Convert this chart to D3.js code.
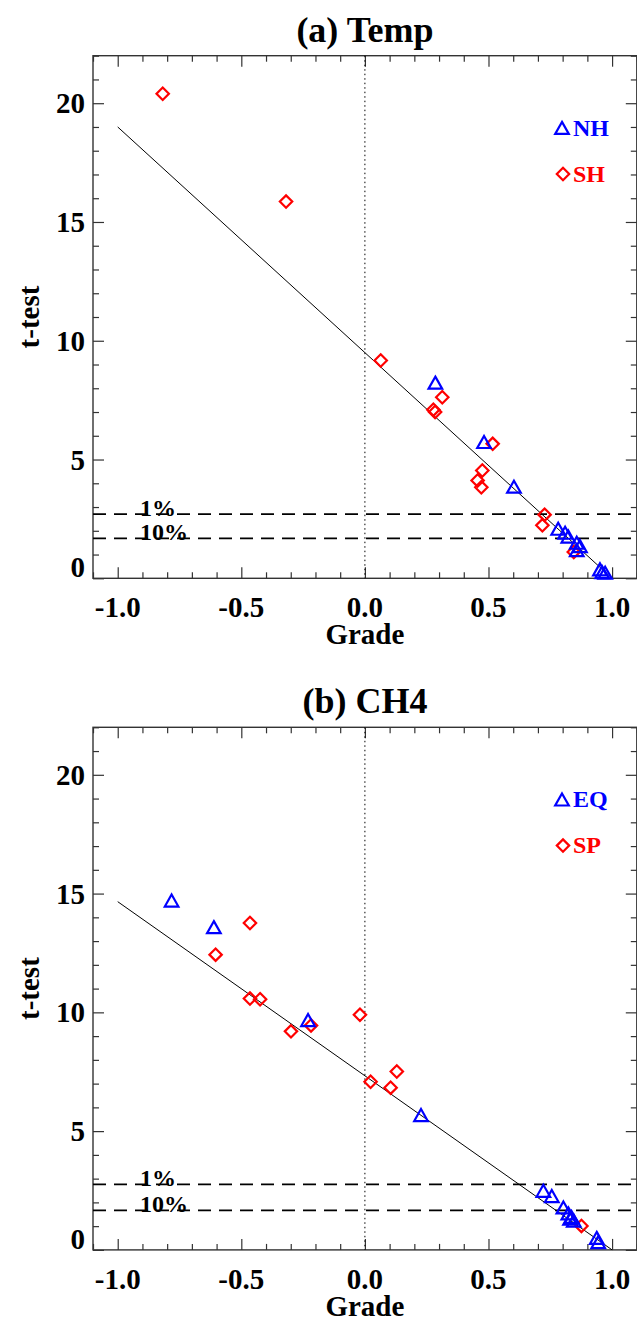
<!DOCTYPE html>
<html>
<head>
<meta charset="utf-8">
<script src="https://cdn.jsdelivr.net/npm/d3@7/dist/d3.min.js"></script>
<style>
  html, body { margin: 0; padding: 0; background: #fff; }
  svg { display: block; }
  text { font-family: "Liberation Serif", "Times New Roman", Times, serif; font-weight: bold; }
</style>
</head>
<body>
<svg id="chart" width="637" height="1322"></svg>
<script>
// ---- (a) Temp ----
const tempNHGrade = [0.285, 0.482, 0.603, 0.782, 0.810, 0.823, 0.857, 0.870, 0.857, 0.951, 0.960, 0.972];
const tempNHT     = [8.22, 5.72, 3.84, 2.07, 1.90, 1.74, 1.48, 1.34, 1.17, 0.36, 0.24, 0.22];
const tempSHGrade = [-0.818, -0.319, 0.064, 0.313, 0.277, 0.284, 0.517, 0.475, 0.456, 0.471, 0.727, 0.718, 0.845];
const tempSHT     = [20.40, 15.86, 9.17, 7.62, 7.10, 7.00, 5.66, 4.54, 4.12, 3.83, 2.68, 2.23, 1.11];
const tempFitGrade = [-1.0, 1.0];
const tempFitT     = [19.0, 0.0];
const tempSigLevels = [2.70, 1.68];

// ---- (b) CH4 ----
const ch4EQGrade = [-0.782, -0.611, -0.230, 0.227, 0.722, 0.756, 0.803, 0.823, 0.836, 0.830, 0.845, 0.938, 0.944];
const ch4EQT     = [14.69, 13.57, 9.66, 5.66, 2.47, 2.25, 1.77, 1.52, 1.37, 1.30, 1.21, 0.49, 0.31];
const ch4SPGrade = [-0.465, -0.604, -0.465, -0.424, -0.218, -0.299, -0.020, 0.023, 0.129, 0.104, 0.876];
const ch4SPT     = [13.76, 12.43, 10.58, 10.55, 9.45, 9.20, 9.90, 7.08, 7.51, 6.83, 1.01];
const ch4FitGrade = [-1.0, 1.0];
const ch4FitT     = [14.66, 0.0];
const ch4SigLevels = [2.76, 1.66];

const sigLabels = ["1%", "10%"];
const xMajorTicks = [-1.0, -0.5, 0.0, 0.5, 1.0];
const yMajorTicks = [0, 5, 10, 15, 20];
const xDomain = [-1.1, 1.1];
const yDomain = [0, 22];

const panels = [
  { title: "(a) Temp", top: 55.7,
    seriesA: { name: "NH", grade: tempNHGrade, t: tempNHT },
    seriesB: { name: "SH", grade: tempSHGrade, t: tempSHT },
    fitGrade: tempFitGrade, fitT: tempFitT, sig: tempSigLevels },
  { title: "(b) CH4", top: 727.3,
    seriesA: { name: "EQ", grade: ch4EQGrade, t: ch4EQT },
    seriesB: { name: "SP", grade: ch4SPGrade, t: ch4SPT },
    fitGrade: ch4FitGrade, fitT: ch4FitT, sig: ch4SigLevels }
];

const svg = d3.select("#chart");
const left = 93, right = 636.8, plotH = 522.6;
const BLUE = "#0000ff", RED = "#ff0000";

const triPath = "M0,-6.4L6.8,5.6L-6.8,5.6Z";
const diaPath = "M0,-6.2L6.2,0L0,6.2L-6.2,0Z";

const range = (a, b, step) => d3.range(Math.round(a / step), Math.round(b / step) + 1).map(i => +(i * step).toFixed(6));

panels.forEach(p => {
  const top = p.top, bottom = top + plotH;
  const x = d3.scaleLinear().domain(xDomain).range([left, right]);
  const y = d3.scaleLinear().domain(yDomain).range([bottom, top]);
  const g = svg.append("g");

  // title
  g.append("text").attr("x", (left + right) / 2).attr("y", top - 14)
    .attr("text-anchor", "middle").attr("font-size", 36).text(p.title);

  // minor + major ticks on all four sides, pointing inward
  const xMinor = range(-1.1, 1.1, 0.1).filter(v => !xMajorTicks.some(m => Math.abs(m - v) < 1e-6));
  const yMinor = range(0, 22, 1).filter(v => !yMajorTicks.includes(v));
  const axisStyle = sel => {
    sel.select(".domain").remove();
    sel.selectAll(".tick line").attr("stroke", "#333").attr("stroke-width", 1.2);
    sel.selectAll(".tick text").remove();
  };
  g.append("g").attr("transform", `translate(0,${bottom})`)
    .call(d3.axisBottom(x).tickValues(xMajorTicks).tickSize(-11)).call(axisStyle);
  g.append("g").attr("transform", `translate(0,${bottom})`)
    .call(d3.axisBottom(x).tickValues(xMinor).tickSize(-6)).call(axisStyle);
  g.append("g").attr("transform", `translate(0,${top})`)
    .call(d3.axisTop(x).tickValues(xMajorTicks).tickSize(-11)).call(axisStyle);
  g.append("g").attr("transform", `translate(0,${top})`)
    .call(d3.axisTop(x).tickValues(xMinor).tickSize(-6)).call(axisStyle);
  g.append("g").attr("transform", `translate(${left},0)`)
    .call(d3.axisLeft(y).tickValues(yMajorTicks).tickSize(-11)).call(axisStyle);
  g.append("g").attr("transform", `translate(${left},0)`)
    .call(d3.axisLeft(y).tickValues(yMinor).tickSize(-6)).call(axisStyle);
  g.append("g").attr("transform", `translate(${right},0)`)
    .call(d3.axisRight(y).tickValues(yMajorTicks).tickSize(-11)).call(axisStyle);
  g.append("g").attr("transform", `translate(${right},0)`)
    .call(d3.axisRight(y).tickValues(yMinor).tickSize(-6)).call(axisStyle);

  // frame
  g.append("rect").attr("x", left).attr("y", top).attr("width", right - left).attr("height", plotH)
    .attr("fill", "none").attr("stroke", "#333").attr("stroke-width", 1.4);

  // tick labels
  g.selectAll(".xlab").data(xMajorTicks).join("text")
    .attr("x", d => x(d)).attr("y", bottom + 38.7).attr("text-anchor", "middle")
    .attr("font-size", 29).text(d => d.toFixed(1));
  g.selectAll(".ylab").data(yMajorTicks).join("text")
    .attr("x", left - 8).attr("y", d => d === 0 ? y(d) - 1 : y(d) + 10)
    .attr("text-anchor", "end").attr("font-size", 29).text(d => String(d));

  // axis titles
  g.append("text").attr("x", (left + right) / 2).attr("y", bottom + 66)
    .attr("text-anchor", "middle").attr("font-size", 29).text("Grade");
  g.append("text").attr("transform", `translate(39,${(top + bottom) / 2}) rotate(-90)`)
    .attr("text-anchor", "middle").attr("font-size", 29).text("t-test");

  // zero-grade reference line
  g.append("line").attr("x1", x(0)).attr("x2", x(0)).attr("y1", top).attr("y2", bottom)
    .attr("stroke", "#000").attr("stroke-width", 1).attr("stroke-dasharray", "1.5,3");

  // significance thresholds
  p.sig.forEach((v, i) => {
    g.append("line").attr("x1", left).attr("x2", right).attr("y1", y(v)).attr("y2", y(v))
      .attr("stroke", "#000").attr("stroke-width", 1.8).attr("stroke-dasharray", "13,8");
    g.append("text").attr("x", 140).attr("y", y(v) + 2).attr("font-size", 24).text(sigLabels[i]);
  });

  // fitted line
  const fitPts = p.fitGrade.map((gv, i) => [gv, p.fitT[i]]);
  g.append("path").datum(fitPts)
    .attr("d", d3.line().x(d => x(d[0])).y(d => y(d[1])))
    .attr("fill", "none").attr("stroke", "#000").attr("stroke-width", 1);

  // points
  const ptsA = p.seriesA.grade.map((gv, i) => [gv, p.seriesA.t[i]]);
  const ptsB = p.seriesB.grade.map((gv, i) => [gv, p.seriesB.t[i]]);
  g.append("g").selectAll("path").data(ptsB).join("path")
    .attr("transform", d => `translate(${x(d[0])},${y(d[1])})`)
    .attr("d", diaPath).attr("fill", "none").attr("stroke", RED).attr("stroke-width", 2.2);
  g.append("g").selectAll("path").data(ptsA).join("path")
    .attr("transform", d => `translate(${x(d[0])},${y(d[1])})`)
    .attr("d", triPath).attr("fill", "none").attr("stroke", BLUE).attr("stroke-width", 2.2);

  // legend
  g.append("path").attr("transform", `translate(562,${top + 72.6})`).attr("d", triPath)
    .attr("fill", "none").attr("stroke", BLUE).attr("stroke-width", 2.2);
  g.append("text").attr("x", 573).attr("y", top + 80).attr("font-size", 24)
    .attr("fill", BLUE).text(p.seriesA.name);
  g.append("path").attr("transform", `translate(563,${top + 118.3})`).attr("d", diaPath)
    .attr("fill", "none").attr("stroke", RED).attr("stroke-width", 2.2);
  g.append("text").attr("x", 573).attr("y", top + 126).attr("font-size", 24)
    .attr("fill", RED).text(p.seriesB.name);
});
</script>
</body>
</html>
